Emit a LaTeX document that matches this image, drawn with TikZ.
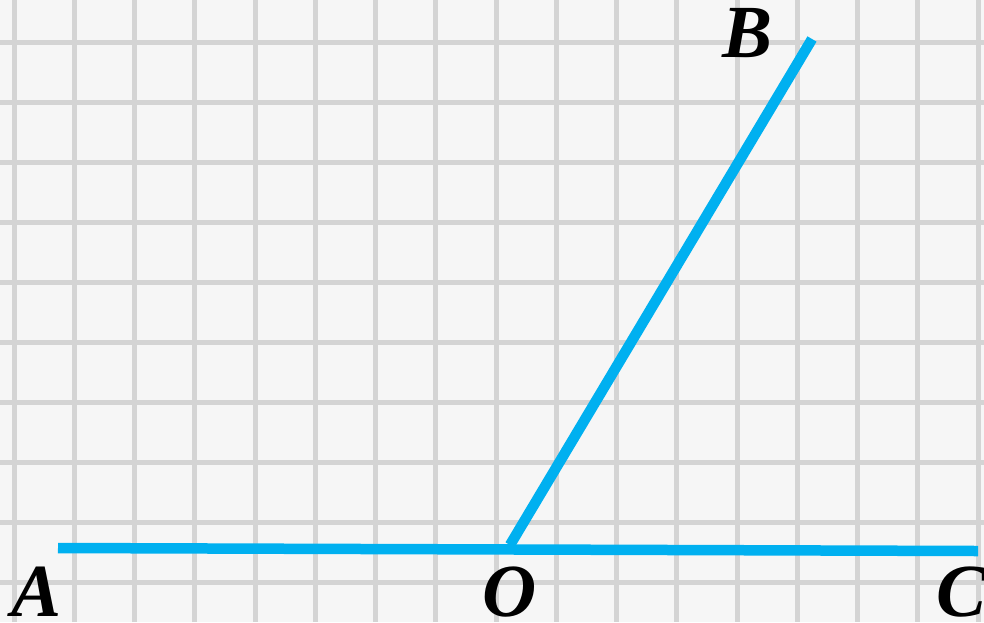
\documentclass[tikz,border=0pt]{standalone}
\usepackage{fontspec}
\setmainfont{Liberation Serif}
\definecolor{bgc}{HTML}{F6F6F6}
\definecolor{gridc}{HTML}{D4D4D4}
\definecolor{raycol}{HTML}{00B0F0}
\begin{document}
\begin{tikzpicture}[x=1pt,y=-1pt,
  gridline/.style={draw=gridc,line width=5pt},
  ray/.style={draw=raycol,line width=10.5pt,line cap=butt},
  lbl/.style={anchor=base,inner sep=0pt,font=\fontsize{75}{80}\selectfont\bfseries\itshape}]
\useasboundingbox (0,0) rectangle (984,622);
\fill[bgc] (0,0) rectangle (984,622);
\foreach \k in {0,...,16} {
  \path[gridline] ({14+60.25*\k},0) -- ({14+60.25*\k},622);
}
\foreach \k in {0,...,9} {
  \path[gridline] (0,{42+60.1*\k}) -- (984,{42+60.1*\k});
}
\coordinate (A) at (58,548);
\coordinate (C) at (978,551);
\coordinate (O) at (510,545);
\coordinate (B) at (812,39);
\path[ray] (O) -- (B);
\path[ray] (A) -- (C);
\node[lbl] (lA) at (37,616) {A};
\node[lbl] (lB) at (748,57) {B};
\node[lbl] (lO) at (510,616) {O};
\node[lbl] (lC) at (961,616) {C};
\end{tikzpicture}
\end{document}
